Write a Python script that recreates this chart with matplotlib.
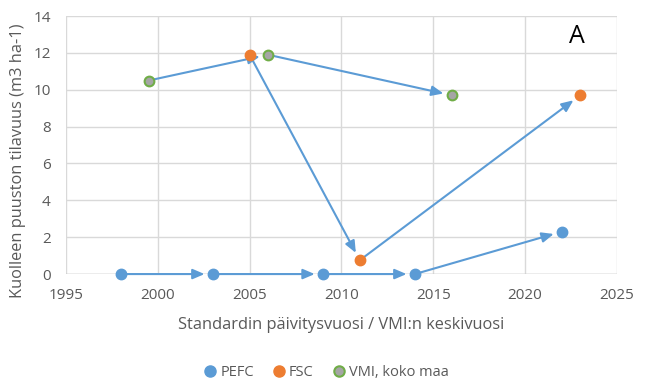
import matplotlib.pyplot as plt
from matplotlib.lines import Line2D

plt.rcParams['font.family'] = ['Open Sans', 'DejaVu Sans']

# data
pefc_x = [1998, 2003, 2009, 2014, 2022]
pefc_y = [0, 0, 0, 0, 2.3]
fsc_x = [2005, 2011, 2023]
fsc_y = [11.9, 0.75, 9.7]
vmi_x = [1999.5, 2006, 2016]
vmi_y = [10.5, 11.9, 9.7]

sininen = '#5B9BD5'
oranssi = '#ED7D31'
harmaa = '#A5A5A5'
vihrea = '#70AD47'
teksti = '#595959'

fig = plt.figure(figsize=(6.5, 3.86), dpi=100)
ax = fig.add_axes([0.1015, 0.29, 0.8475, 0.6685])

def nuolet(xs, ys):
    for i in range(len(xs) - 1):
        ax.annotate('', xy=(xs[i + 1], ys[i + 1]), xytext=(xs[i], ys[i]),
                    arrowprops=dict(arrowstyle='-|>,head_length=0.7,head_width=0.3',
                                    color=sininen, lw=1.5, shrinkA=0, shrinkB=6),
                    zorder=2)

nuolet(pefc_x, pefc_y)
nuolet(fsc_x, fsc_y)
nuolet(vmi_x, vmi_y)

ax.plot(pefc_x, pefc_y, 'o', color=sininen, ms=7.5, zorder=3, clip_on=False)
ax.plot(fsc_x, fsc_y, 'o', color=oranssi, ms=7.5, zorder=3, clip_on=False)
ax.plot(vmi_x, vmi_y, 'o', mfc=harmaa, mec=vihrea, mew=1.5, ms=7, zorder=3)

ax.set_xlim(1995, 2025)
ax.set_ylim(0, 14)
ax.set_xticks(range(1995, 2026, 5))
ax.set_yticks(range(0, 15, 2))
ax.grid(True, color='#D9D9D9', lw=1)
ax.set_axisbelow(True)
for s in ax.spines.values():
    s.set_visible(False)
ax.axhline(0, color='#BFBFBF', lw=1, zorder=1)
ax.tick_params(length=0, labelsize=11, colors=teksti)
ax.tick_params(axis='x', pad=10)
ax.tick_params(axis='y', pad=11)

ax.set_xlabel('Standardin päivitysvuosi / VMI:n keskivuosi', fontsize=11.8, color=teksti, labelpad=10)
ax.set_ylabel('Kuolleen puuston tilavuus (m3 ha-1)', fontsize=11.8, color=teksti,
              va='center')
ax.yaxis.set_label_coords(-0.087, 0.44)

ax.text(2022.8, 12.9, 'A', fontsize=18, ha='center', va='center', color='black')

kahvat = [
    Line2D([], [], marker='o', ls='', color=sininen, ms=8),
    Line2D([], [], marker='o', ls='', color=oranssi, ms=8),
    Line2D([], [], marker='o', ls='', mfc=harmaa, mec=vihrea, mew=1.5, ms=7.5),
]
fig.legend(kahvat, ['PEFC', 'FSC', 'VMI, koko maa'], loc='center', bbox_to_anchor=(0.5, 0.034),
           ncol=3, frameon=False, fontsize=10.5, labelcolor=teksti, handletextpad=0.1,
           columnspacing=1.1, handlelength=1.2)

fig.savefig('out.png', dpi=100)
